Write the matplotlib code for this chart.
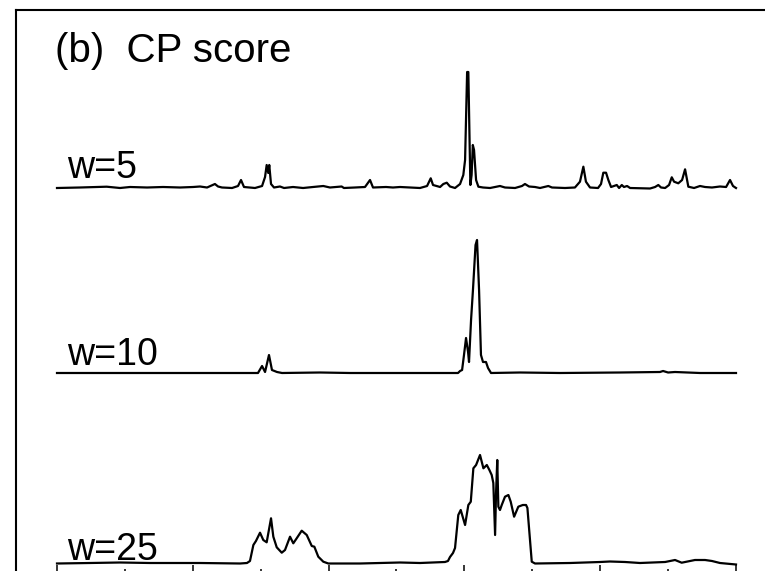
import matplotlib
matplotlib.use("Agg")
from matplotlib import pyplot as plt
from matplotlib.ticker import MultipleLocator

plt.rcParams['font.family'] = ['Liberation Sans', 'DejaVu Sans']

# CP score traces, position along the sequence vs score
w5_x = [0, 16.9, 36.6, 46.4, 53.8, 66.3, 78.1, 90.6, 100.2, 105.3, 110.5, 116.3, 118.6, 121.5,
        128.9, 133.3, 135.5, 137.7, 145.8, 151, 153.2, 154.4, 155.6, 156.3, 157.6, 159.8, 164.2,
        167.2, 173.8, 181.2, 188.5, 196.1, 201, 209.6, 211.3, 219.4, 226.8, 230.5, 232.7, 242.3,
        247.4, 252.6, 260, 267.3, 272.5, 275.2, 276.9, 282.1, 284.5, 287, 289.4, 293.1, 296.8,
        299.2, 300.5, 302, 302.9, 304.4, 305.3, 306.2, 307.1, 308.6, 310.3, 313.7, 318.9, 326.2,
        329.9, 337.3, 342.4, 344.6, 347.6, 352, 355.7, 361.8, 364.5, 374.1, 381.4, 385.1, 387.6,
        389.5, 392.5, 398.4, 400.6, 402.3, 404.3, 406, 408, 412.2, 413.9, 415.9, 417.5, 419.8,
        422, 436.7, 440.4, 442.8, 444.8, 447.8, 450.7, 452.7, 454.4, 457.5, 460.3, 462.5, 464.9,
        469.1, 473.5, 477.2, 482.3, 488.2, 492.7, 495.6, 497.8, 500]
w5_y = [0, 0.005, 0.013, 0, 0.01, 0.005, 0.01, 0.005, 0.01, 0.015, 0.005, 0.04, 0.015, 0.005,
        0, 0.02, 0.08, 0.01, 0, 0.02, 0.11, 0.23, 0.15, 0.23, 0.04, 0.005, 0.015,
        0, 0.01, 0, 0.01, 0.02, 0.005, 0.015, 0, 0.005, 0.01, 0.08, 0.005, 0.01,
        0.005, 0.01, 0.005, 0, 0.02, 0.097, 0.03, 0.01, 0.04, 0.053, 0.015, 0, 0.04,
        0.13, 0.28, 1.16, 1.16, 0.03, 0.13, 0.43, 0.38, 0.08, 0.013, 0.005, 0, 0.02,
        0.005, 0, 0.02, 0.04, 0.015, 0.01, 0, 0.02, 0.005, 0, 0.005, 0.063, 0.213,
        0.063, 0.005, 0, 0.04, 0.153, 0.153, 0.08, 0.01, 0.03, 0, 0.03, 0.01, 0.02,
        0, -0.005, 0.01, 0.03, 0.005, 0, 0.03, 0.107, 0.063, 0.047, 0.08, 0.187, 0.013,
        0, 0.02, 0.01, 0.005, 0.015, 0.01, 0.08, 0.02, 0]

w10_x = [0, 50, 100, 145, 148, 151, 153.2, 156.1, 158.3, 162, 165.7, 193.7, 215.8, 252.6, 295.3,
         296.8, 298.3, 299.7, 301.2, 302.7, 303.4, 304.9, 306.3, 308.2, 309.3, 310.8, 312.2,
         313.7, 315.9, 317.4, 319.6, 341, 370.4, 414.6, 444, 446.3, 450, 455.1, 473.5, 500]
w10_y = [0, 0, 0, 0, 0, 0.07, 0.01, 0.18, 0.03, 0.01, 0, 0.005, 0, 0, 0,
         0.02, 0.03, 0.18, 0.35, 0.21, 0.11, 0.53, 0.83, 1.28, 1.33, 0.83, 0.18,
         0.11, 0.11, 0.05, 0, 0.005, 0, 0.005, 0.01, 0.02, 0.005, 0.01, 0, 0]

w25_x = [0, 24.3, 46.4, 68.5, 105.3, 134.8, 139.9, 142.1, 144.6, 146.5, 149.5, 151.9, 154.4,
         157.6, 159.3, 161.8, 165.5, 167.9, 171.6, 174, 176.5, 180.2, 183.9, 187.6, 189.5,
         192.4, 196.1, 199.8, 223.1, 252.6, 267.3, 285.7, 287.9, 289.4, 291.6, 293.1, 295.5,
         297.3, 300.5, 302.9, 304.7, 306.6, 308.6, 311.5, 314, 316.5, 318.4, 320.1, 321.3,
         322.6, 323.3, 324.2, 325, 326.2, 327.5, 329.9, 332.4, 334.1, 336.6, 339.7, 343,
         345.4, 346.4, 349.6, 352, 377.8, 399.9, 407.2, 418.3, 429.3, 447.8, 455.1, 460,
         469.8, 477.2, 482.3, 488.2, 500]
w25_y = [0, 0.005, 0.01, 0.005, 0.005, 0, 0.005, 0.025, 0.185, 0.225, 0.308, 0.235, 0.212,
         0.452, 0.268, 0.162, 0.108, 0.135, 0.268, 0.202, 0.252, 0.328, 0.285, 0.175, 0.168,
         0.068, 0.018, 0, 0, 0.01, 0.005, 0.015, 0.025, 0.065, 0.105, 0.155, 0.485,
         0.535, 0.385, 0.585, 0.618, 0.952, 0.985, 1.085, 0.952, 0.985, 0.935, 0.885, 0.805,
         0.285, 0.705, 1.035, 0.568, 0.535, 0.585, 0.668, 0.685, 0.618, 0.468, 0.568, 0.585,
         0.585, 0.555, 0.018, 0, 0.005, 0.015, 0.02, 0.015, 0.005, 0.015, 0.035, 0.008,
         0.035, 0.035, 0.025, 0.005, -0.01]

labels = ["w=5", "w=10", "w=25"]

W, H = 765, 571
fig = plt.figure(figsize=(W / 100, H / 100), dpi=100)

# outer frame (only left and top edges fall inside the picture)
frame = fig.add_axes([16 / W, -0.2, 1.2, 1.2 - 10 / H])
frame.set_xticks([])
frame.set_yticks([])
for s in ["right", "bottom"]:
    frame.spines[s].set_visible(False)
for s in ["left", "top"]:
    frame.spines[s].set_linewidth(1.5)

# data area: x 0..500 spans px 57..736, bottom spine just below the picture
bot_px = 576
ax = fig.add_axes([57 / W, (H - bot_px) / H, (736 - 57) / W, (bot_px - 10) / H])
ax.patch.set_alpha(0)
ax.set_xlim(0, 500)
ax.set_ylim(0, bot_px - 10)
for s in ["left", "right", "top"]:
    ax.spines[s].set_visible(False)
ax.spines["bottom"].set_linewidth(1.5)
ax.set_yticks([])
ax.xaxis.set_major_locator(MultipleLocator(100))
ax.xaxis.set_minor_locator(MultipleLocator(50))
ax.tick_params(axis="x", which="major", direction="in", length=8, width=1.1, labelbottom=False)
ax.tick_params(axis="x", which="minor", direction="in", length=5, width=1.1)

scale = 100
offsets = [388, 203, 12.5]
series = [(w5_x, w5_y), (w10_x, w10_y), (w25_x, w25_y)]
lab_dy = [10, 8, 3]
for (xs, ys), off, lab, dy in zip(series, offsets, labels, lab_dy):
    ax.plot(xs, [off + v * scale for v in ys], color="black", lw=1.6, clip_on=False)
    ax.text(7.4, off + dy, lab, fontsize=27, va="baseline", ha="left")

fig.text(55 / W, 1 - 62 / H, "(b)  CP score", fontsize=29, va="baseline", ha="left")

fig.savefig("out.png", dpi=100)
